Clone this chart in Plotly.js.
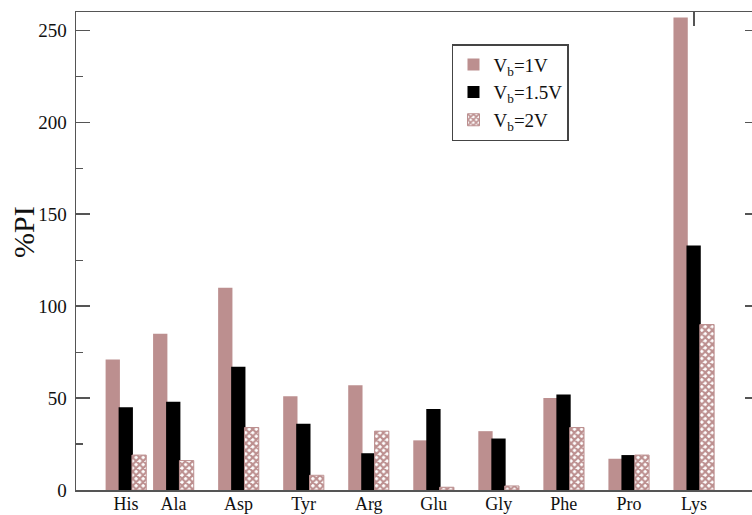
<!DOCTYPE html>
<html>
<head>
<meta charset="utf-8">
<script src="https://cdn.plot.ly/plotly-3.0.1.min.js"></script>
<style>
html, body { margin: 0; padding: 0; overflow: hidden; background: #fff; }
#chart { width: 767px; height: 515px; }
</style>
</head>
<body>
<div id="chart"></div>
<script>
// Data
const aminoAcids = ["His", "Ala", "Asp", "Tyr", "Arg", "Glu", "Gly", "Phe", "Pro", "Lys"];
const xPos = [1.27, 2, 3, 4, 5, 6, 7, 8, 9, 10];
const vb1 = [71, 85, 110, 51, 57, 27, 32, 50, 17, 257];
const vb15 = [45, 48, 67, 36, 20, 44, 28, 52, 19, 133];
const vb2 = [19, 16, 34, 8, 32, 1.5, 2.2, 34, 19, 90];
const seriesNames = ["V<sub>b</sub>=1V", "V<sub>b</sub>=1.5V", "V<sub>b</sub>=2V"];

const rosy = "#bc8f8f";
const barW = 0.22;

const traces = [
  {
    type: "bar", x: xPos, y: vb1, name: seriesNames[0],
    width: barW, offset: -0.315,
    marker: { color: rosy, line: { width: 0 } }
  },
  {
    type: "bar", x: xPos, y: vb15, name: seriesNames[1],
    width: barW, offset: -0.115,
    marker: { color: "#000000", line: { width: 0 } }
  },
  {
    type: "bar", x: xPos, y: vb2, name: seriesNames[2],
    width: barW, offset: 0.09,
    marker: {
      color: "#ffffff",
      line: { color: rosy, width: 1 },
      pattern: { shape: "x", fgcolor: rosy, bgcolor: "#ffffff", size: 5, solidity: 0.65 }
    }
  },
  {
    // empty helper trace so the top (mirror) axis is drawn
    type: "scatter", x: [], y: [], xaxis: "x2", yaxis: "y",
    showlegend: false, hoverinfo: "skip"
  }
];

const font = { family: "Liberation Serif, Times New Roman, serif", size: 18, color: "#111" };

const layout = {
  width: 767, height: 515,
  margin: { l: 76, r: 8, t: 12, b: 25 },
  paper_bgcolor: "#fff", plot_bgcolor: "#fff",
  font: font,
  barmode: "overlay",
  showlegend: true,
  legend: {
    x: 0.5505, y: 0.933, xanchor: "left", yanchor: "top",
    bgcolor: "#fff", bordercolor: "#444", borderwidth: 1.5,
    font: { family: font.family, size: 19, color: "#111" },
    tracegroupgap: 0
  },
  xaxis: {
    range: [0.5, 11],
    tickvals: xPos, ticktext: aminoAcids,
    ticks: "", showgrid: false, zeroline: false,
    showline: true, linecolor: "#555", linewidth: 1.5, mirror: true,
    tickfont: font, ticklabelstandoff: -3
  },
  xaxis2: {
    overlaying: "x", side: "top", anchor: "y",
    range: [0.5, 11], tickvals: [10],
    ticks: "inside", ticklen: 14, tickwidth: 1.5, tickcolor: "#555",
    showticklabels: false, showgrid: false, zeroline: false, showline: false
  },
  yaxis: {
    range: [0, 260], dtick: 50, tick0: 0,
    ticks: "inside", ticklen: 14, tickwidth: 1.5, tickcolor: "#555",
    minor: { dtick: 25, ticks: "inside", ticklen: 7, tickwidth: 1.2, tickcolor: "#555", showgrid: false },
    showgrid: false, zeroline: false,
    showline: true, linecolor: "#555", linewidth: 1.5, mirror: "ticks",
    tickfont: { family: font.family, size: 19, color: "#111" }, ticklabelstandoff: 4
  },
  annotations: [{
    text: "%PI", xref: "paper", yref: "paper",
    x: (23 - 76) / 683, y: (490 - 232) / 478,
    xanchor: "center", yanchor: "middle", textangle: -90, showarrow: false,
    font: { family: font.family, size: 30, color: "#111" }
  }]
};

Plotly.newPlot("chart", traces, layout, { displayModeBar: false, staticPlot: true });
</script>
</body>
</html>
